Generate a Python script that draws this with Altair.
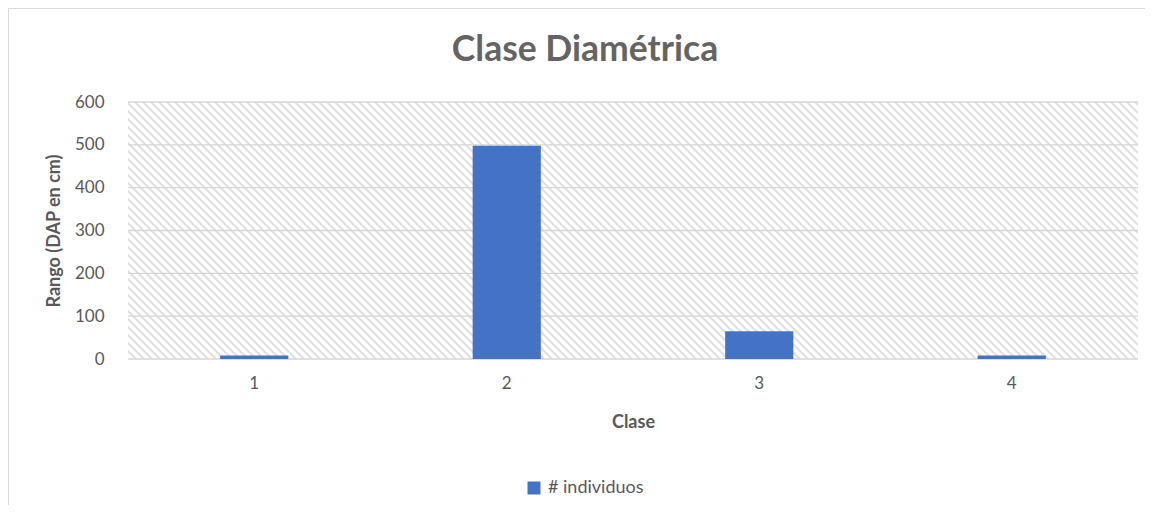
import altair as alt
import pandas as pd

# ---- data ----
clases = ["1", "2", "3", "4"]
individuos = [8, 498, 65, 8]
serie = "# individuos"
y_ticks = [0, 100, 200, 300, 400, 500, 600]

# ---- style ----
W, H = 1010, 257
FONT = "Lato"
GRAY = "#595959"
BLUE = "#4472C4"
HATCH_STEP = 8

bars_df = pd.DataFrame({"Clase": clases, "valor": individuos, "serie": [serie] * len(clases)})
grid_df = pd.DataFrame({"v": y_ticks})
hatch_df = pd.DataFrame({"k": list(range(0, (W + H) // HATCH_STEP + 2))})
frame_df = pd.DataFrame({"f": [0]})

yscale = alt.Scale(domain=[0, 600], nice=False, zero=True)

frame = alt.Chart(frame_df).mark_rect(
    fill="white", fillOpacity=0, stroke="#d9d9d9", strokeWidth=1
).encode(
    x=alt.value(-119.5), y=alt.value(-93.5), x2=alt.value(3000), y2=alt.value(3000)
)

hatch = alt.Chart(hatch_df).transform_calculate(
    xa=f"datum.k * {HATCH_STEP} - {H}",
    xb=f"datum.k * {HATCH_STEP}",
    ya=f"{H}",
    yb="0",
).mark_rule(stroke="#e0e0e0", strokeWidth=2.2, clip=True).encode(
    x=alt.X("xa:Q", scale=alt.Scale(domain=[0, W], nice=False, zero=False), axis=None),
    x2="xb:Q",
    y=alt.Y("ya:Q", scale=alt.Scale(domain=[0, H], nice=False, zero=False), axis=None),
    y2="yb:Q",
)

grid = alt.Chart(grid_df).mark_rule(stroke="#d6d6d6", strokeWidth=1.3).encode(
    y=alt.Y("v:Q", scale=yscale, axis=None)
)

bars = alt.Chart(bars_df).mark_bar().encode(
    x=alt.X(
        "Clase:N",
        sort=clases,
        scale=alt.Scale(paddingInner=0.73, paddingOuter=0.365),
        axis=alt.Axis(
            title="Clase", orient="bottom", labelAngle=0, ticks=False, domain=False, grid=False,
            labelPadding=16, labelFont=FONT, labelFontSize=17, labelColor=GRAY,
            titleFont=FONT, titleFontSize=18, titleFontWeight="bold", titleColor=GRAY,
            titlePadding=22,
        ),
    ),
    y=alt.Y(
        "valor:Q",
        scale=yscale,
        axis=alt.Axis(
            title="Rango (DAP en cm)", orient="left", values=y_ticks, ticks=False, domain=False,
            grid=False, labelPadding=24, labelFont=FONT, labelFontSize=17, labelColor=GRAY,
            titleFont=FONT, titleFontSize=18, titleFontWeight="bold", titleColor=GRAY,
            titlePadding=11,
        ),
    ),
    color=alt.Color(
        "serie:N",
        scale=alt.Scale(range=[BLUE]),
        legend=alt.Legend(
            title=None, orient="none", legendX=397, legendY=377, symbolType="square",
            symbolSize=169, symbolStrokeWidth=0, labelFont=FONT, labelFontSize=18,
            labelColor=GRAY, labelOffset=5,
        ),
    ),
)

chart = alt.layer(frame, hatch, grid, bars).resolve_scale(
    x="independent", y="independent"
).properties(
    width=W,
    height=H,
    title=alt.TitleParams(
        "Clase Diamétrica", font=FONT, fontSize=35.5, fontWeight="bold", color="#646464",
        anchor="middle", dx=-48, offset=-95, baseline="bottom",
    ),
    padding={"left": 120, "top": 94, "right": 7, "bottom": 146},
    autosize=alt.AutoSizeParams(type="none"),
    background="white",
).configure_view(strokeOpacity=0)

chart.save("out.html", embed_options={"renderer": "svg", "actions": False})
